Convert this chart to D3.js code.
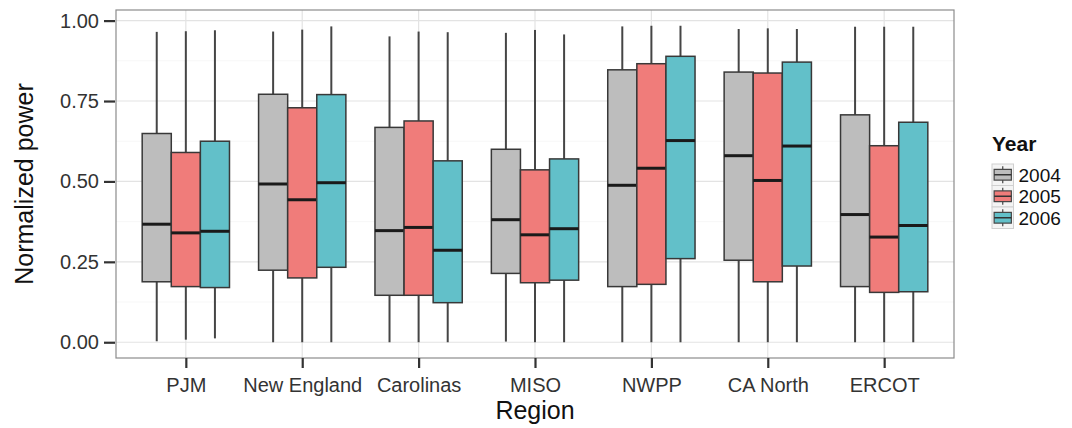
<!DOCTYPE html>
<html>
<head>
<meta charset="utf-8">
<script src="https://cdn.jsdelivr.net/npm/d3@7"></script>
<style>
   body { margin: 0; background: #fff; }
   svg { display: block; font-family: 'Liberation Sans', Arial, sans-serif; }
</style>
</head>
<body>
<div id="chart"></div>
<script>
const regions = ['PJM', 'New England', 'Carolinas', 'MISO', 'NWPP', 'CA North', 'ERCOT'];
const years = ['2004', '2005', '2006'];
const yTicks = [0, 0.25, 0.5, 0.75, 1];

// one row per region, one value per year (2004, 2005, 2006)
const lower = [
   [0.003, 0.008, 0.012],
   [0.0, 0.0, 0.0],
   [0.0, 0.0, 0.0],
   [0.002, 0.0, 0.0],
   [0.0, 0.0, 0.0],
   [0.0, 0.0, 0.0],
   [0.0, 0.0, 0.0],
];
const q1 = [
   [0.188, 0.173, 0.17],
   [0.224, 0.2, 0.233],
   [0.146, 0.146, 0.123],
   [0.214, 0.185, 0.193],
   [0.173, 0.18, 0.26],
   [0.255, 0.188, 0.237],
   [0.173, 0.155, 0.157],
];
const median = [
   [0.367, 0.34, 0.345],
   [0.492, 0.443, 0.496],
   [0.347, 0.357, 0.286],
   [0.381, 0.334, 0.353],
   [0.488, 0.541, 0.627],
   [0.58, 0.503, 0.61],
   [0.397, 0.327, 0.363],
];
const q3 = [
   [0.649, 0.59, 0.625],
   [0.771, 0.729, 0.77],
   [0.668, 0.688, 0.564],
   [0.6, 0.536, 0.57],
   [0.847, 0.866, 0.889],
   [0.84, 0.837, 0.871],
   [0.707, 0.611, 0.684],
];
const upper = [
   [0.965, 0.967, 0.97],
   [0.966, 0.972, 0.982],
   [0.951, 0.966, 0.964],
   [0.962, 0.971, 0.957],
   [0.982, 0.984, 0.984],
   [0.974, 0.976, 0.974],
   [0.981, 0.981, 0.981],
];

const fills = ['#bdbdbd', '#f07c7a', '#62c0c9'];

const width = 1072;
const height = 428;
const panel = { left: 116, right: 954, top: 10, bottom: 358 };

const svg = d3
   .select('#chart')
   .append('svg')
   .attr('width', width)
   .attr('height', height);

const xScale = d3
   .scalePoint()
   .domain(regions)
   .range([panel.left, panel.right])
   .padding(0.6);

const step = xScale.step();
const dodge = d3
   .scaleBand()
   .domain(years)
   .range([-0.375 * step, 0.375 * step])
   .paddingInner(0);

const yScale = d3
   .scaleLinear()
   .domain([-0.049, 1.033])
   .range([panel.bottom, panel.top]);

// panel background + grid
svg.append('rect')
   .attr('x', panel.left)
   .attr('y', panel.top)
   .attr('width', panel.right - panel.left)
   .attr('height', panel.bottom - panel.top)
   .attr('fill', '#fff');

const grid = svg.append('g').attr('class', 'grid');
grid.selectAll('.minor')
   .data(d3.pairs(yTicks).map(([a, b]) => (a + b) / 2))
   .join('line')
   .attr('class', 'minor')
   .attr('x1', panel.left)
   .attr('x2', panel.right)
   .attr('y1', (d) => yScale(d))
   .attr('y2', (d) => yScale(d))
   .attr('stroke', '#f7f7f7')
   .attr('stroke-width', 1);
grid.selectAll('.major-y')
   .data(yTicks)
   .join('line')
   .attr('class', 'major-y')
   .attr('x1', panel.left)
   .attr('x2', panel.right)
   .attr('y1', (d) => yScale(d))
   .attr('y2', (d) => yScale(d))
   .attr('stroke', '#e3e3e3')
   .attr('stroke-width', 1.2);
grid.selectAll('.major-x')
   .data(regions)
   .join('line')
   .attr('class', 'major-x')
   .attr('x1', (d) => xScale(d))
   .attr('x2', (d) => xScale(d))
   .attr('y1', panel.top)
   .attr('y2', panel.bottom)
   .attr('stroke', '#e3e3e3')
   .attr('stroke-width', 1.2);

// flatten stats into box records
const boxes = [];
regions.forEach((r, i) => {
   years.forEach((y, j) => {
      boxes.push({
         region: r,
         year: y,
         j: j,
         lower: lower[i][j],
         q1: q1[i][j],
         median: median[i][j],
         q3: q3[i][j],
         upper: upper[i][j],
      });
   });
});

const bw = dodge.bandwidth();
const boxG = svg
   .append('g')
   .selectAll('g')
   .data(boxes)
   .join('g')
   .attr('transform', (d) => `translate(${xScale(d.region) + dodge(d.year)},0)`);

boxG.append('line')
   .attr('x1', bw / 2)
   .attr('x2', bw / 2)
   .attr('y1', (d) => yScale(d.upper))
   .attr('y2', (d) => yScale(d.q3))
   .attr('stroke', '#454545')
   .attr('stroke-width', 2);
boxG.append('line')
   .attr('x1', bw / 2)
   .attr('x2', bw / 2)
   .attr('y1', (d) => yScale(d.q1))
   .attr('y2', (d) => yScale(d.lower))
   .attr('stroke', '#454545')
   .attr('stroke-width', 2);
boxG.append('rect')
   .attr('x', 0)
   .attr('width', bw)
   .attr('y', (d) => yScale(d.q3))
   .attr('height', (d) => yScale(d.q1) - yScale(d.q3))
   .attr('fill', (d) => fills[d.j])
   .attr('stroke', '#383838')
   .attr('stroke-width', 1.5);
boxG.append('line')
   .attr('x1', 0)
   .attr('x2', bw)
   .attr('y1', (d) => yScale(d.median))
   .attr('y2', (d) => yScale(d.median))
   .attr('stroke', '#1a1a1a')
   .attr('stroke-width', 3);

// panel border
svg.append('rect')
   .attr('x', panel.left)
   .attr('y', panel.top)
   .attr('width', panel.right - panel.left)
   .attr('height', panel.bottom - panel.top)
   .attr('fill', 'none')
   .attr('stroke', '#8c8c8c')
   .attr('stroke-width', 1.2);

// axes
const yAxis = d3
   .axisLeft(yScale)
   .tickValues(yTicks)
   .tickFormat(d3.format('.2f'))
   .tickSize(11)
   .tickPadding(5);
const yAxisG = svg
   .append('g')
   .attr('transform', `translate(${panel.left - 1},0)`)
   .call(yAxis);

const xAxis = d3.axisBottom(xScale).tickSize(10).tickPadding(10);
const xAxisG = svg
   .append('g')
   .attr('transform', `translate(0,${panel.bottom})`)
   .call(xAxis);

[xAxisG, yAxisG].forEach((g) => {
   g.select('.domain').remove();
   g.selectAll('.tick line').attr('stroke', '#333').attr('stroke-width', 2.2);
   g.selectAll('.tick text')
      .attr('fill', '#333')
      .attr('font-size', 20)
      .attr('font-family', 'Liberation Sans, Arial, sans-serif');
});

svg.append('text')
   .attr('x', (panel.left + panel.right) / 2)
   .attr('y', 419)
   .attr('text-anchor', 'middle')
   .attr('font-size', 25)
   .attr('fill', '#111')
   .text('Region');

svg.append('text')
   .attr('transform', `translate(33,${(panel.top + panel.bottom) / 2}) rotate(-90)`)
   .attr('text-anchor', 'middle')
   .attr('font-size', 25)
   .attr('fill', '#111')
   .text('Normalized power');

// legend
const legend = svg.append('g').attr('transform', 'translate(992,0)');
legend.append('text')
   .attr('x', 0)
   .attr('y', 151)
   .attr('font-size', 21)
   .attr('font-weight', 'bold')
   .attr('fill', '#111')
   .text('Year');

const keySize = 21.5;
const keys = legend
   .selectAll('.key')
   .data(years)
   .join('g')
   .attr('class', 'key')
   .attr('transform', (d, i) => `translate(0,${164 + i * keySize})`);

keys.append('rect')
   .attr('width', keySize)
   .attr('height', keySize)
   .attr('fill', '#f4f4f4')
   .attr('stroke', '#d0d0d0')
   .attr('stroke-width', 1);
keys.append('line')
   .attr('x1', keySize / 2)
   .attr('x2', keySize / 2)
   .attr('y1', keySize * 0.1)
   .attr('y2', keySize * 0.9)
   .attr('stroke', '#454545')
   .attr('stroke-width', 1.2);
keys.append('rect')
   .attr('x', keySize * 0.1)
   .attr('y', keySize * 0.25)
   .attr('width', keySize * 0.8)
   .attr('height', keySize * 0.5)
   .attr('fill', (d, i) => fills[i])
   .attr('stroke', '#454545')
   .attr('stroke-width', 1.2);
keys.append('line')
   .attr('x1', keySize * 0.1)
   .attr('x2', keySize * 0.9)
   .attr('y1', keySize / 2)
   .attr('y2', keySize / 2)
   .attr('stroke', '#333')
   .attr('stroke-width', 1.5);
keys.append('text')
   .attr('x', keySize + 5)
   .attr('y', keySize / 2)
   .attr('dy', '0.36em')
   .attr('font-size', 19)
   .attr('fill', '#111')
   .text((d) => d);
</script>
</body>
</html>
